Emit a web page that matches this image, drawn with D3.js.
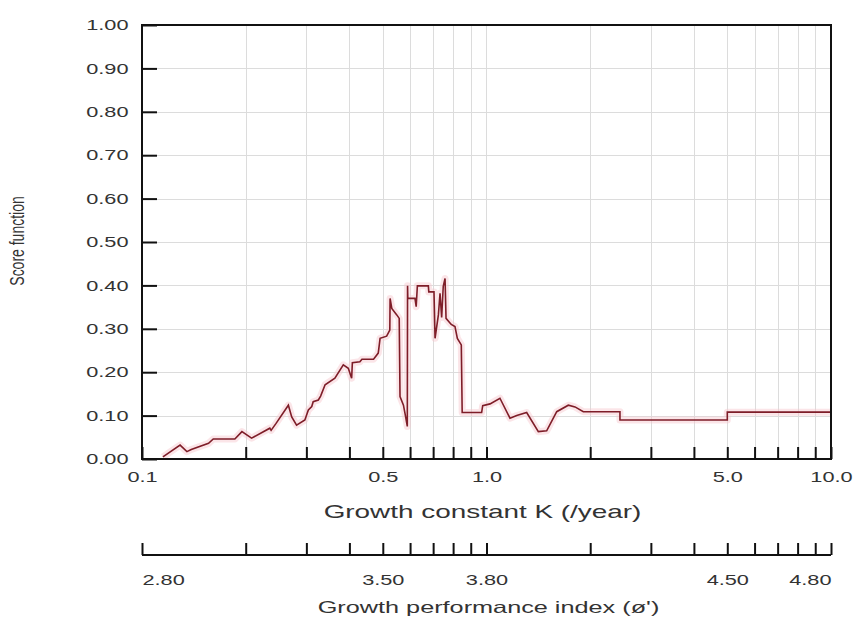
<!DOCTYPE html>
<html>
<head>
<meta charset="utf-8">
<title>Score function vs growth constant</title>
<script src="https://d3js.org/d3.v7.min.js"></script>
<style>
  body { margin: 0; background: #fff; }
  text { font-family: "Liberation Sans", Arial, sans-serif; fill: #333; }
</style>
</head>
<body>
<div id="chart"></div>
<script>
// growth constant K (/year) and the score function
var kValues = [0.115, 0.129, 0.135, 0.139, 0.156, 0.161, 0.186, 0.195, 0.208, 0.235,
  0.237, 0.245, 0.266, 0.272, 0.281, 0.297, 0.304, 0.311, 0.314, 0.325,
  0.330, 0.340, 0.363, 0.384, 0.397, 0.406, 0.408, 0.429, 0.435, 0.470,
  0.485, 0.487, 0.491, 0.513, 0.524, 0.525, 0.531, 0.549, 0.558, 0.561,
  0.574, 0.580, 0.589, 0.590, 0.591, 0.620, 0.625, 0.630, 0.678, 0.680,
  0.704, 0.709, 0.725, 0.733, 0.741, 0.749, 0.758, 0.763, 0.790, 0.810,
  0.823, 0.845, 0.850, 0.968, 0.975, 1.024, 1.094, 1.170, 1.224, 1.308,
  1.414, 1.495, 1.599, 1.728, 1.807, 1.910, 2.44, 2.44, 5.0, 5.0, 10.0];
var scoreValues = [0.005, 0.032, 0.017, 0.022, 0.036, 0.046, 0.046, 0.063, 0.048, 0.071,
  0.066, 0.082, 0.124, 0.097, 0.078, 0.090, 0.113, 0.121, 0.132, 0.136,
  0.145, 0.171, 0.186, 0.217, 0.209, 0.186, 0.222, 0.224, 0.230, 0.230,
  0.244, 0.255, 0.278, 0.283, 0.297, 0.370, 0.347, 0.332, 0.324, 0.144,
  0.124, 0.105, 0.075, 0.399, 0.370, 0.370, 0.351, 0.399, 0.399, 0.385,
  0.385, 0.278, 0.332, 0.382, 0.326, 0.398, 0.416, 0.324, 0.310, 0.305,
  0.278, 0.263, 0.107, 0.107, 0.123, 0.127, 0.140, 0.094, 0.100, 0.107,
  0.063, 0.065, 0.109, 0.124, 0.120, 0.109, 0.109, 0.090, 0.090, 0.108, 0.108];

var yTicks = [0, 0.1, 0.2, 0.3, 0.4, 0.5, 0.6, 0.7, 0.8, 0.9, 1.0];
var kTickValues = [0.1, 0.5, 1, 5, 10];
var kTickLabels = ["0.1", "0.5", "1.0", "5.0", "10.0"];
var phiTickValues = [2.80, 3.50, 3.80, 4.50, 4.80];
var phiOffset = 3.80; // phi' = log10(K) + 3.80

var width = 866, height = 623;
var margin = { top: 25, right: 35, bottom: 164, left: 142 };
var stretch = 1.5; // the picture is wider than tall, text looks stretched

var svg = d3.select("#chart").append("svg")
  .attr("width", width)
  .attr("height", height);

var x = d3.scaleLog()
  .domain([0.1, 10])
  .range([margin.left, width - margin.right]);

var y = d3.scaleLinear()
  .domain([0, 1])
  .range([height - margin.bottom, margin.top]);

var phi = d3.scaleLinear()
  .domain([Math.log10(0.1) + phiOffset, Math.log10(10) + phiOffset])
  .range(x.range());

var plotBottom = height - margin.bottom;
var plotRight = width - margin.right;

// grid
var grid = svg.append("g").attr("stroke", "#dcdcdc").attr("stroke-width", 1);
grid.selectAll(".vg")
  .data(x.ticks().filter(function(d) { return d > 0.1 && d < 10; }))
  .enter().append("line")
  .attr("x1", function(d) { return Math.round(x(d)) + 0.5; })
  .attr("x2", function(d) { return Math.round(x(d)) + 0.5; })
  .attr("y1", margin.top)
  .attr("y2", plotBottom);
grid.selectAll(".hg")
  .data(yTicks.filter(function(d) { return d > 0 && d < 1; }))
  .enter().append("line")
  .attr("x1", margin.left)
  .attr("x2", plotRight)
  .attr("y1", function(d) { return Math.round(y(d)) + 0.5; })
  .attr("y2", function(d) { return Math.round(y(d)) + 0.5; });

// the score curve
var line = d3.line()
  .x(function(d, i) { return x(kValues[i]); })
  .y(function(d, i) { return y(scoreValues[i]); });

svg.append("path")
  .datum(kValues)
  .attr("d", line)
  .attr("fill", "none")
  .attr("stroke", "#f7c6cc")
  .attr("stroke-opacity", 0.45)
  .attr("stroke-width", 7)
  .attr("stroke-linejoin", "round");

svg.append("path")
  .datum(kValues)
  .attr("d", line)
  .attr("fill", "none")
  .attr("stroke", "#7e1d28")
  .attr("stroke-width", 1.6);

// frame
svg.append("rect")
  .attr("x", margin.left)
  .attr("y", margin.top)
  .attr("width", plotRight - margin.left)
  .attr("height", plotBottom - margin.top)
  .attr("fill", "none")
  .attr("stroke", "#111")
  .attr("stroke-width", 2);

function styleAxis(g) {
  g.select(".domain").remove();
  g.selectAll(".tick line").attr("stroke", "#111").attr("stroke-width", 2);
  g.selectAll(".tick text")
    .attr("font-size", 14.5)
    .attr("fill", "#333")
    .attr("font-family", "Liberation Sans, Arial, sans-serif")
    .attr("transform", "scale(" + stretch + ",1)");
}

// left axis
var yAxis = svg.append("g")
  .attr("transform", "translate(" + margin.left + ",0)")
  .call(d3.axisLeft(y).tickValues(yTicks).tickSize(-15).tickSizeOuter(0)
    .tickPadding(9).tickFormat(d3.format(".2f")));
styleAxis(yAxis);

// bottom K axis
var xAxis = svg.append("g")
  .attr("transform", "translate(0," + plotBottom + ")")
  .call(d3.axisBottom(x).tickValues(x.ticks()).tickSize(-12).tickSizeOuter(0)
    .tickPadding(13)
    .tickFormat(function(d) {
      var i = kTickValues.findIndex(function(v) { return Math.abs(v - d) < 1e-9; });
      return i < 0 ? "" : kTickLabels[i];
    }));
styleAxis(xAxis);

svg.append("text")
  .attr("transform", "translate(" + ((margin.left + plotRight) / 2 - 4) + "," + 518 + ") scale(1.55,1)")
  .attr("text-anchor", "middle")
  .attr("font-size", 18)
  .text("Growth constant K (/year)");

// second axis: growth performance index, same positions as the K ticks
var axis2Y = 555;
var phiAxis = svg.append("g")
  .attr("transform", "translate(0," + axis2Y + ")")
  .call(d3.axisBottom(phi)
    .tickValues(x.ticks().map(function(k) { return Math.log10(k) + phiOffset; }))
    .tickSize(-12).tickSizeOuter(0).tickPadding(20)
    .tickFormat(function(d) {
      var v = phiTickValues.find(function(p) { return Math.abs(p - d) < 0.005; });
      return v === undefined ? "" : d3.format(".2f")(v);
    }));
styleAxis(phiAxis);
phiAxis.append("line")
  .attr("x1", margin.left).attr("x2", plotRight)
  .attr("stroke", "#111").attr("stroke-width", 2);
phiAxis.selectAll(".tick text")
  .attr("text-anchor", function(d) {
    if (Math.abs(d - phiTickValues[0]) < 0.005) return "start";
    if (Math.abs(d - phiTickValues[phiTickValues.length - 1]) < 0.005) return "end";
    return "middle";
  });

svg.append("text")
  .attr("transform", "translate(" + ((margin.left + plotRight) / 2 + 2) + "," + 613 + ") scale(1.55,1)")
  .attr("text-anchor", "middle")
  .attr("font-size", 16.3)
  .text("Growth performance index (ø')");

// y axis title
svg.append("text")
  .attr("transform", "translate(24,241) scale(" + stretch + ",1) rotate(-90)")
  .attr("text-anchor", "middle")
  .attr("font-size", 14)
  .text("Score function");
</script>
</body>
</html>
